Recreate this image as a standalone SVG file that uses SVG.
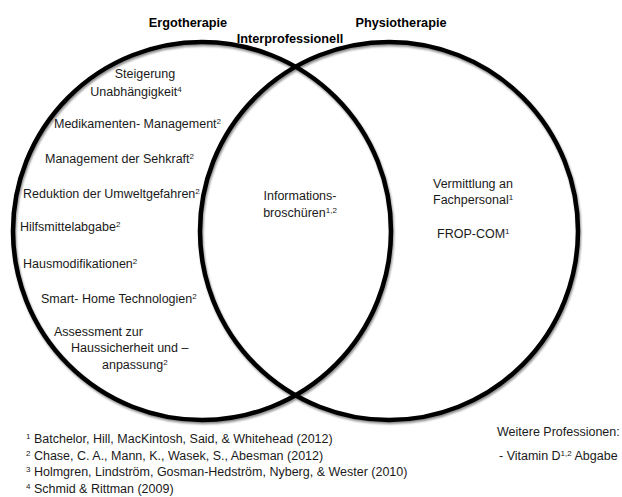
<svg xmlns="http://www.w3.org/2000/svg" width="622" height="497" viewBox="0 0 622 497">
  <style>
    text { font-family: "Liberation Sans", Arial, sans-serif; font-size: 12.5px; fill: #1a1a1a; }
    .head { font-weight: bold; font-size: 12.7px; fill: #000; }
    .sup { font-size: 8px; }
    .ring { fill: none; stroke: #000; stroke-width: 4.5; }
  </style>
  <defs>
    <filter id="soft" x="-10%" y="-10%" width="120%" height="120%">
      <feGaussianBlur in="SourceAlpha" stdDeviation="1.2" result="b"/>
      <feOffset in="b" dx="0.5" dy="1.5" result="o"/>
      <feComponentTransfer in="o" result="s"><feFuncA type="linear" slope="0.45"/></feComponentTransfer>
      <feMerge><feMergeNode in="s"/><feMergeNode in="SourceGraphic"/></feMerge>
    </filter>
  </defs>
  <rect width="622" height="497" fill="#fff"/>

  <!-- the two overlapping sets -->
  <g id="connectors" filter="url(#soft)">
    <circle id="set-ergo" class="ring" cx="202" cy="231" r="189"/>
    <circle id="set-physio" class="ring" cx="389" cy="231" r="189"/>
  </g>

  <g id="headings">
    <text class="head" x="188" y="27" text-anchor="middle">Ergotherapie</text>
    <text class="head" x="290" y="43" text-anchor="middle">Interprofessionell</text>
    <text class="head" x="401" y="27" text-anchor="middle">Physiotherapie</text>
  </g>

  <g id="ergotherapie">
    <text x="145" y="78" text-anchor="middle">Steigerung</text>
    <text x="136" y="96" text-anchor="middle">Unabhängigkeit<tspan class="sup" dy="-4">4</tspan></text>
    <text x="54" y="128">Medikamenten- Management<tspan class="sup" dy="-4">2</tspan></text>
    <text x="45" y="163">Management der Sehkraft<tspan class="sup" dy="-4">2</tspan></text>
    <text x="23" y="198">Reduktion der Umweltgefahren<tspan class="sup" dy="-4">2</tspan></text>
    <text x="20" y="231">Hilfsmittelabgabe<tspan class="sup" dy="-4">2</tspan></text>
    <text x="23" y="268">Hausmodifikationen<tspan class="sup" dy="-4">2</tspan></text>
    <text x="41" y="303">Smart- Home Technologien<tspan class="sup" dy="-4">2</tspan></text>
    <text x="54" y="336">Assessment zur</text>
    <text x="71" y="352">Haussicherheit und –</text>
    <text x="102" y="369">anpassung<tspan class="sup" dy="-4">2</tspan></text>
  </g>

  <g id="interprofessionell">
    <text x="300" y="200" text-anchor="middle">Informations-</text>
    <text x="300" y="217" text-anchor="middle">broschüren<tspan class="sup" dy="-4">1,2</tspan></text>
  </g>

  <g id="physiotherapie">
    <text x="433" y="188">Vermittlung an</text>
    <text x="433" y="204">Fachpersonal<tspan class="sup" dy="-4">1</tspan></text>
    <text x="437" y="238">FROP-COM<tspan class="sup" dy="-4">1</tspan></text>
  </g>

  <g id="weitere">
    <text x="497" y="436">Weitere Professionen:</text>
    <text x="499" y="460">- Vitamin D<tspan class="sup" dy="-4">1,2</tspan><tspan dy="4"> Abgabe</tspan></text>
  </g>

  <g id="references">
    <text x="26" y="443"><tspan class="sup" dy="-4">1</tspan><tspan dy="4"> Batchelor, Hill, MacKintosh, Said, &amp; Whitehead (2012)</tspan></text>
    <text x="26" y="460"><tspan class="sup" dy="-4">2</tspan><tspan dy="4"> Chase, C. A., Mann, K., Wasek, S., Abesman (2012)</tspan></text>
    <text x="26" y="476"><tspan class="sup" dy="-4">3</tspan><tspan dy="4"> Holmgren, Lindström, Gosman-Hedström, Nyberg, &amp; Wester (2010)</tspan></text>
    <text x="26" y="493"><tspan class="sup" dy="-4">4</tspan><tspan dy="4"> Schmid &amp; Rittman (2009)</tspan></text>
  </g>
</svg>
